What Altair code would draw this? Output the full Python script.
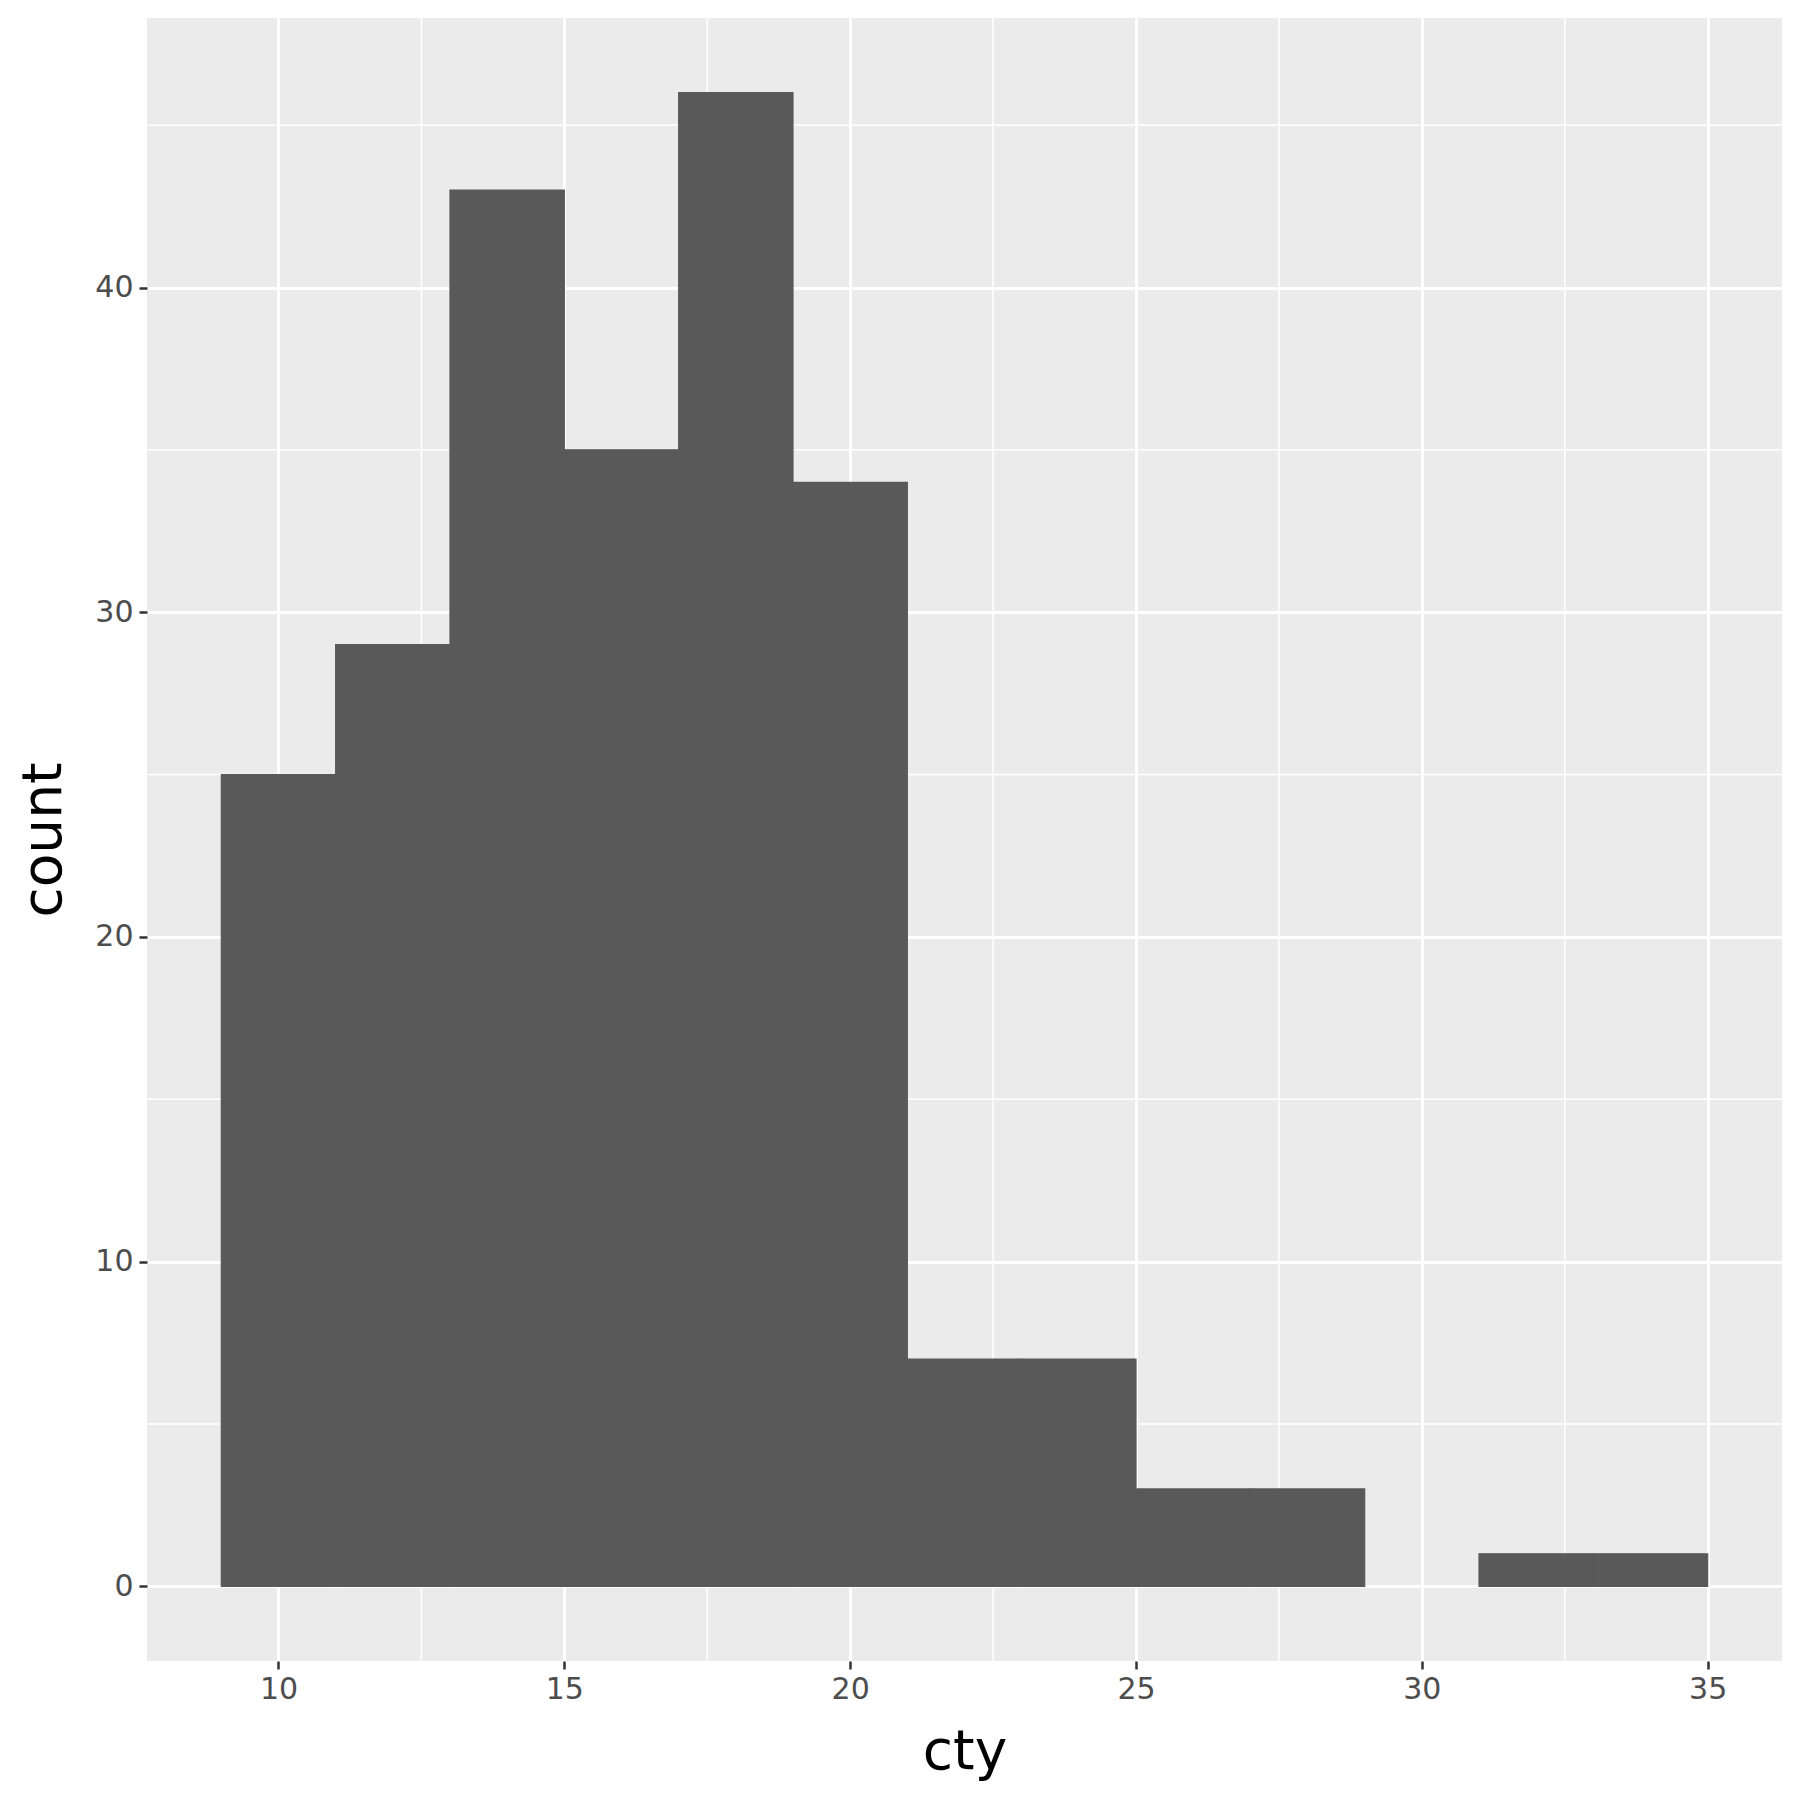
import altair as alt
import pandas as pd

# Histogram of cty (binwidth 2)
bin_start = [9, 11, 13, 15, 17, 19, 21, 23, 25, 27, 29, 31, 33]
counts = [25, 29, 43, 35, 46, 34, 7, 7, 3, 3, 0, 1, 1]
bin_width = 2

x_ticks = [10, 15, 20, 25, 30, 35]
y_ticks = [0, 10, 20, 30, 40]
x_minor = [12.5, 17.5, 22.5, 27.5, 32.5]
y_minor = [5, 15, 25, 35, 45]

df = pd.DataFrame({
    "start": bin_start,
    "end": [s + bin_width for s in bin_start],
    "count": counts,
    "zero": [0] * len(bin_start),
})
df = df[df["count"] > 0]

xdom = [7.7, 36.3]
ydom = [-2.3, 48.3]

xscale = alt.Scale(domain=xdom, nice=False, zero=False)
yscale = alt.Scale(domain=ydom, nice=False, zero=False)

axis_common = dict(
    domain=False,
    grid=True,
    gridColor="white",
    gridWidth=3,
    tickColor="#333333",
    tickWidth=2.5,
    tickSize=8,
    labelColor="#4D4D4D",
    labelFontSize=30,
    labelFont="DejaVu Sans",
    titleFont="DejaVu Sans",
    titleFontSize=55,
    titleFontWeight="normal",
    titleColor="black",
)

xaxis = alt.Axis(values=x_ticks, labelPadding=5, title="cty",
                 titleY=107, titleBaseline="alphabetic", **axis_common)
yaxis = alt.Axis(values=y_ticks, labelPadding=6, title="count",
                 titleX=-87, titleBaseline="alphabetic", **axis_common)

minor_x = alt.Chart(pd.DataFrame({"v": x_minor})).mark_rule(
    color="white", strokeWidth=1.5
).encode(x=alt.X("v:Q", scale=xscale, axis=xaxis))

minor_y = alt.Chart(pd.DataFrame({"v": y_minor})).mark_rule(
    color="white", strokeWidth=1.5
).encode(y=alt.Y("v:Q", scale=yscale, axis=yaxis))

bars = alt.Chart(df).mark_rect(
    color="#595959", stroke="#595959", strokeWidth=1.2
).encode(
    x=alt.X("start:Q", scale=xscale, axis=xaxis),
    x2="end:Q",
    y=alt.Y("count:Q", scale=yscale, axis=yaxis),
    y2="zero:Q",
)

chart = alt.layer(minor_x, minor_y, bars).properties(
    width=1635,
    height=1643,
    padding={"left": 139, "top": 10, "right": 10, "bottom": 130},
    autosize=alt.AutoSizeParams(type="none"),
    background="white",
).configure_view(fill="#EBEBEB", strokeWidth=0)

chart.save("out.html", embed_options={"renderer": "svg", "actions": False})
